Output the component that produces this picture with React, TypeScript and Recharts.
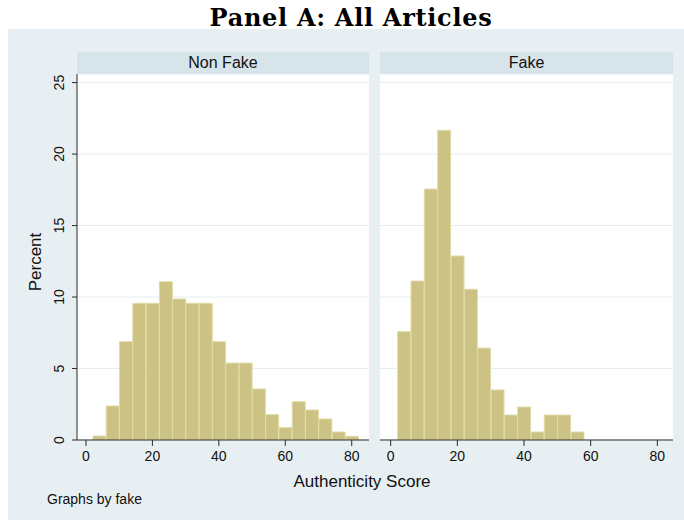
import React from "react";
import { Bar, BarChart, CartesianGrid, XAxis, YAxis } from "recharts";

// histogram bins (width 4), shared by both panels
const binMids = [
  4.1, 8.1, 12.1, 16.1, 20.1, 24.1, 28.1, 32.1, 36.1, 40.1, 44.1, 48.1, 52.1,
  56.1, 60.1, 64.1, 68.1, 72.1, 76.1, 80.1,
];
const nonFakePct = [
  0.28, 2.38, 6.88, 9.56, 9.56, 11.07, 9.86, 9.56, 9.56, 6.88, 5.38, 5.38, 3.57,
  1.77, 0.86, 2.68, 2.1, 1.47, 0.56, 0.26,
];
const fakePct = [
  7.58, 11.12, 17.55, 21.66, 12.87, 10.54, 6.43, 3.5, 1.75, 2.31, 0.56, 1.75,
  1.75, 0.56,
];
const xTicks = [0, 20, 40, 60, 80];
const yTicks = [0, 5, 10, 15, 20, 25];

const nonFakeData = binMids.map((mid, i) => ({ mid, pct: nonFakePct[i] }));
const fakeData = fakePct.map((pct, i) => ({ mid: binMids[i], pct }));

const W = 684;
const H = 525;
const SANS = "'Liberation Sans', Arial, sans-serif";
const BG = "#e8eff2";
const STRIP = "#d7e4ea";
const BAR = "#cbc283";
const BAR_EDGE = "#e1dba9";
const AXIS = "#2b2b2b";
const GRID = "#e6eef1";

const YTick = ({ x, y, payload }: any) => (
  <text
    x={x - 6}
    y={y}
    transform={`rotate(-90, ${x - 6}, ${y})`}
    textAnchor="middle"
    fontSize={14}
    fontFamily={SANS}
    fill="#111"
  >
    {payload.value}
  </text>
);

const strip = (label: string, left: number, width: number) => (
  <div
    style={{
      position: "absolute",
      left,
      top: 52,
      width,
      height: 22,
      background: STRIP,
      fontFamily: SANS,
      fontSize: 16,
      lineHeight: "22px",
      textAlign: "center",
      color: "#111",
    }}
  >
    {label}
  </div>
);

const panel = (
  data: { mid: number; pct: number }[],
  margin: any,
  domain: number[],
  showY: boolean
) => (
  <div style={{ position: "absolute", left: 0, top: 0 }}>
    <BarChart
      width={W}
      height={H}
      data={data}
      margin={margin}
      barCategoryGap={0}
      barGap={0}
    >
      <CartesianGrid vertical={false} stroke={GRID} fill="#ffffff" fillOpacity={1} />
      <XAxis
        type="number"
        dataKey="mid"
        domain={domain}
        ticks={xTicks}
        allowDataOverflow
        height={30}
        tickSize={6}
        tickMargin={5}
        axisLine={{ stroke: AXIS }}
        tickLine={{ stroke: AXIS }}
        tick={{ fill: "#111", fontSize: 14, fontFamily: SANS }}
      />
      <YAxis
        hide={!showY}
        domain={[0, 25.6]}
        ticks={yTicks}
        allowDataOverflow
        width={40}
        tickSize={5}
        tickMargin={2}
        axisLine={{ stroke: AXIS }}
        tickLine={{ stroke: AXIS }}
        tick={<YTick />}
      />
      <Bar
        dataKey="pct"
        fill={BAR}
        stroke={BAR_EDGE}
        strokeWidth={1}
        isAnimationActive={false}
      />
    </BarChart>
  </div>
);

export default function App() {
  return (
    <div
      style={{
        position: "absolute",
        left: 0,
        top: 0,
        width: W,
        height: H,
        background: "#ffffff",
        overflow: "hidden",
      }}
    >
      <div
        style={{
          position: "absolute",
          left: 8,
          top: 29,
          width: W - 8,
          height: 491,
          background: BG,
        }}
      />
      {strip("Non Fake", 77, 292)}
      {strip("Fake", 380, 293)}
      {panel(nonFakeData, { top: 74, right: 315, bottom: 55, left: 37 }, [-2.7, 85.2], true)}
      {panel(fakeData, { top: 74, right: 11, bottom: 55, left: 380 }, [-3.2, 84.7], false)}
      <svg
        width={W}
        height={H}
        style={{ position: "absolute", left: 0, top: 0, pointerEvents: "none" }}
      >
        <text
          x={351}
          y={26}
          textAnchor="middle"
          fontSize={24}
          fontWeight="bold"
          letterSpacing={0.7}
          fontFamily="'DejaVu Serif', serif"
          fill="#000"
        >
          Panel A: All Articles
        </text>
        <text
          x={41}
          y={262}
          transform="rotate(-90, 41, 262)"
          textAnchor="middle"
          fontSize={17}
          fontFamily={SANS}
          fill="#111"
        >
          Percent
        </text>
        <text
          x={362}
          y={487}
          textAnchor="middle"
          fontSize={17}
          fontFamily={SANS}
          fill="#111"
        >
          Authenticity Score
        </text>
        <text x={47} y={504} fontSize={14} fontFamily={SANS} fill="#111">
          Graphs by fake
        </text>
      </svg>
    </div>
  );
}
